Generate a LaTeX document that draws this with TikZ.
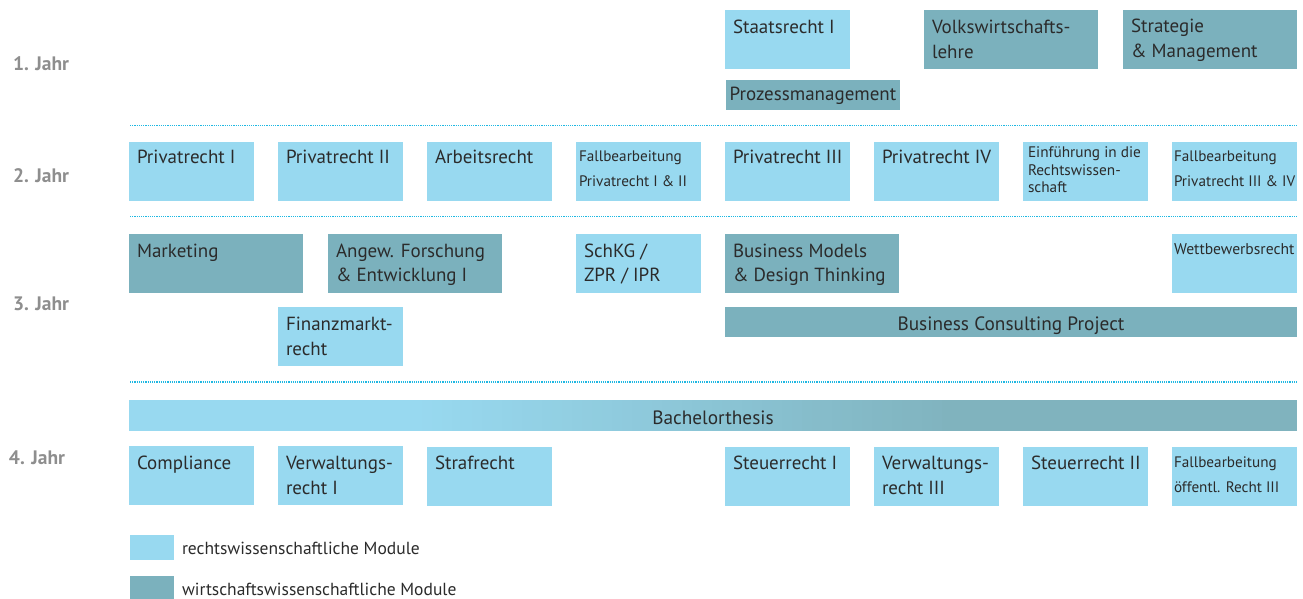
\documentclass[tikz,border=0pt]{standalone}
\usepackage{fontspec}
\setmainfont{PT Sans}
\definecolor{lightmod}{HTML}{98D9F0}
\definecolor{darkmod}{HTML}{7BB1BD}
\definecolor{thesisdark}{HTML}{80B3BE}
\definecolor{txtcol}{HTML}{2B2B2B}
\definecolor{yearcol}{HTML}{8E8E8E}
\definecolor{dotcol}{HTML}{1FB8E2}
\newcommand\modul[8]{%
  \node[#2, minimum width=#5pt, minimum height=#6pt, anchor=north west] (#1) at (#3,#4) {};
  \node[anchor=base west, #7] (#1-t) at (#1.north west) {\parbox[t]{220pt}{\raggedright #8}};
}
\begin{document}
\begin{tikzpicture}[x=1pt,y=-1pt,
  every node/.style={inner sep=0pt, outer sep=0pt, text=txtcol},
  lmod/.style={fill=lightmod},
  dmod/.style={fill=darkmod},
  big/.style={font=\fontsize{19}{24.5}\selectfont, xshift=8pt, yshift=-23pt},
  small/.style={font=\fontsize{15.2}{25}\selectfont, xshift=3pt, yshift=-19pt},
  tiny/.style={font=\fontsize{15.3}{17.5}\selectfont, xshift=5pt, yshift=-15.7pt},
  bigc/.style={font=\fontsize{19.3}{24.5}\selectfont},
  year/.style={font=\fontsize{19.5}{21}\selectfont\bfseries, text=yearcol, anchor=base west},
  sep/.style={draw=dotcol, line width=1.6pt, dash pattern=on 1.1pt off 1.1pt},
  legtext/.style={font=\fontsize{17.5}{20}\selectfont, anchor=base west}
]
\useasboundingbox (0,0) rectangle (1303,599);

% year labels
\node[year] (y1) at (13,71) {1. Jahr};
\node[year] (y2) at (13,182.7) {2. Jahr};
\node[year] (y3) at (13,310) {3. Jahr};
\node[year] (y4) at (9,464) {4. Jahr};

% separators
\coordinate (s1a) at (130,125.5); \coordinate (s1b) at (1297,125.5);
\coordinate (s2a) at (130,216.5); \coordinate (s2b) at (1297,216.5);
\coordinate (s3a) at (130,382);   \coordinate (s3b) at (1297,382);
\draw[sep] (s1a) -- (s1b);
\draw[sep] (s2a) -- (s2b);
\draw[sep] (s3a) -- (s3b);

% year 1
\modul{staat}{lmod}{725}{10}{125}{59}{big, yshift=-1pt}{Staatsrecht I}
\modul{vwl}{dmod}{924}{10}{174}{59}{big, yshift=-1pt}{Volkswirtschafts-\\lehre}
\modul{strat}{dmod}{1123}{10}{174}{59}{big}{Strategie\\\& Management}
\node[dmod, minimum width=174pt, minimum height=30pt, anchor=north west] (proz) at (726,80) {};
\node[bigc, font=\fontsize{19}{24}\selectfont, anchor=base] (proz-t) at ([yshift=-21pt]proz.north) {Prozessmanagement};

% year 2
\modul{pr1}{lmod}{129}{142}{125}{59}{big, yshift=1pt}{Privatrecht I}
\modul{pr2}{lmod}{278}{142}{125}{59}{big, yshift=1pt}{Privatrecht II}
\modul{arb}{lmod}{427}{142}{125}{59}{big, yshift=1pt}{Arbeitsrecht}
\modul{fb1}{lmod}{576}{142}{125}{59}{small}{Fallbearbeitung\\Privatrecht I \& II}
\modul{pr3}{lmod}{725}{142}{125}{59}{big, yshift=1pt}{Privatrecht III}
\modul{pr4}{lmod}{874}{142}{125}{59}{big, yshift=1pt}{Privatrecht IV}
\modul{einf}{lmod}{1023}{142}{125}{59}{tiny}{Einführung in die\\Rechtswissen-\\schaft}
\modul{fb2}{lmod}{1172}{142}{125}{59}{small, xshift=-1pt}{Fallbearbeitung\\Privatrecht III \& IV}

% year 3
\modul{mkt}{dmod}{129}{234}{174}{59}{big}{Marketing}
\modul{afe}{dmod}{328}{234}{174}{59}{big}{Angew. Forschung\\\& Entwicklung I}
\modul{schkg}{lmod}{576}{234}{125}{59}{big}{SchKG /\\ZPR / IPR}
\modul{bmdt}{dmod}{725}{234}{174}{59}{big}{Business Models\\\& Design Thinking}
\modul{wett}{lmod}{1172}{234}{125}{59}{small, font=\fontsize{15.6}{25}\selectfont, xshift=-1pt, yshift=-1pt}{Wettbewerbsrecht}
\modul{fin}{lmod}{278}{307}{125}{59}{big, yshift=-0.7pt}{Finanzmarkt-\\recht}
\node[dmod, minimum width=572pt, minimum height=30pt, anchor=north west] (bcp) at (725,307) {};
\node[bigc, anchor=base] (bcp-t) at ([yshift=-23pt]bcp.north) {Business Consulting Project};

% Bachelorthesis (light -> gradient -> teal)
\fill[lightmod] (129,400) rectangle (423,431);
\foreach \i in {0,...,52} {
  \pgfmathtruncatemacro\pc{round(100*(\i+0.5)/53)}
  \fill[thesisdark!\pc!lightmod] (422+10*\i,400) rectangle (433.5+10*\i,431);
}
\fill[thesisdark] (952,400) rectangle (1297,431);
\node[minimum width=1168pt, minimum height=31pt, anchor=north west] (ba) at (129,400) {};
\node[bigc, anchor=base] (ba-t) at ([yshift=-24.5pt]ba.north) {Bachelorthesis};

% year 4
\modul{comp}{lmod}{129}{446}{125}{59}{big, yshift=-0.5pt}{Compliance}
\modul{vw1}{lmod}{278}{446}{125}{59}{big, yshift=-0.5pt}{Verwaltungs-\\recht I}
\modul{straf}{lmod}{427}{447}{125}{59}{big, yshift=0.5pt}{Strafrecht}
\modul{st1}{lmod}{725}{447}{125}{59}{big, yshift=0.5pt}{Steuerrecht I}
\modul{vw3}{lmod}{874}{447}{125}{59}{big, yshift=0.5pt}{Verwaltungs-\\recht III}
\modul{st2}{lmod}{1023}{447}{125}{59}{big, yshift=0.5pt}{Steuerrecht II}
\modul{fbo}{lmod}{1172}{447}{125}{59}{small, xshift=-1pt, yshift=-1pt}{Fallbearbeitung\\öffentl. Recht III}

% legend
\node[lmod, minimum width=44pt, minimum height=25pt, anchor=north west] (leg1) at (130,535) {};
\node[legtext] (leg1-t) at (182,554) {rechtswissenschaftliche Module};
\node[dmod, minimum width=44pt, minimum height=25pt, anchor=north west] (leg2) at (130,576) {};
\node[legtext] (leg2-t) at (182,595.3) {wirtschaftswissenschaftliche Module};
\end{tikzpicture}
\end{document}
